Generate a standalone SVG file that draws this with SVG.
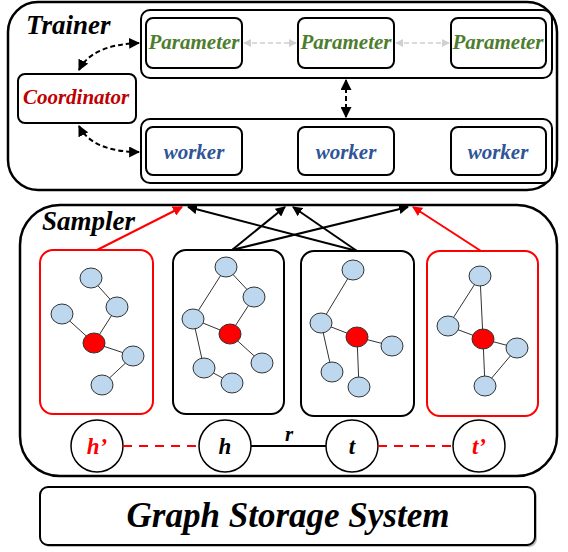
<svg xmlns="http://www.w3.org/2000/svg" width="568" height="552" viewBox="0 0 568 552">
<defs>
<style>
.t{font-family:"Liberation Serif","Times New Roman",serif;font-weight:bold;font-style:italic}
.box{fill:#fff;stroke:#000;stroke-width:2}
.rbox{fill:#fff;stroke:#f00;stroke-width:2}
.e{stroke:#333;stroke-width:1}
.n{fill:#BDD7EE;stroke:#333;stroke-width:1}
.rn{fill:#f00;stroke:#333;stroke-width:1}
.dash{fill:none;stroke:#000;stroke-width:2;stroke-dasharray:5 3}
.gdash{fill:none;stroke:#d0d0d0;stroke-width:1.5;stroke-dasharray:5 3}
</style>
<marker id="ah" viewBox="0 0 10 10" refX="9" refY="5" markerWidth="5.5" markerHeight="5.5" orient="auto-start-reverse" markerUnits="strokeWidth"><path d="M0,0 L10,5 L0,10 z" fill="#000"/></marker>
<marker id="gah" viewBox="0 0 10 10" refX="9" refY="5" markerWidth="5.5" markerHeight="5.5" orient="auto-start-reverse" markerUnits="strokeWidth"><path d="M0,0 L10,5 L0,10 z" fill="#d0d0d0"/></marker>
<marker id="bah" viewBox="0 0 10 10" refX="9" refY="5" markerWidth="5" markerHeight="5" orient="auto" markerUnits="strokeWidth"><path d="M0,0 L10,5 L0,10 z" fill="#000"/></marker>
<marker id="rah" viewBox="0 0 10 10" refX="9" refY="5" markerWidth="5" markerHeight="5" orient="auto" markerUnits="strokeWidth"><path d="M0,0 L10,5 L0,10 z" fill="#f00"/></marker>
</defs>
<rect width="568" height="552" fill="#fff"/>

<g id="trainer">
<rect x="8" y="2" width="549" height="188" rx="30" fill="#fff" stroke="#000" stroke-width="2.5"/>
<text class="t" x="26" y="34" font-size="27">Trainer</text>
</g>
<g id="param-group"><rect class="box" x="141" y="10" width="411" height="68" rx="9"/></g>
<g id="worker-group"><rect class="box" x="141" y="119" width="411" height="64" rx="9"/></g>
<g id="param1"><rect class="box" x="146" y="18" width="96" height="50" rx="7"/><text class="t" x="194" y="49" font-size="21" fill="#4E7D2E" text-anchor="middle">Parameter</text></g>
<g id="param2"><rect class="box" x="298" y="18" width="96" height="50" rx="7"/><text class="t" x="346" y="49" font-size="21" fill="#4E7D2E" text-anchor="middle">Parameter</text></g>
<g id="param3"><rect class="box" x="451" y="18" width="95" height="50" rx="7"/><text class="t" x="498" y="49" font-size="21" fill="#4E7D2E" text-anchor="middle">Parameter</text></g>
<g id="worker1"><rect class="box" x="146" y="127" width="96" height="48" rx="7"/><text class="t" x="194" y="159" font-size="21" fill="#2F5597" text-anchor="middle">worker</text></g>
<g id="worker2"><rect class="box" x="298" y="127" width="96" height="48" rx="7"/><text class="t" x="346" y="159" font-size="21" fill="#2F5597" text-anchor="middle">worker</text></g>
<g id="worker3"><rect class="box" x="451" y="127" width="95" height="48" rx="7"/><text class="t" x="498" y="159" font-size="21" fill="#2F5597" text-anchor="middle">worker</text></g>
<g id="coordinator"><rect class="box" x="18" y="74" width="118" height="49" rx="7"/><text class="t" x="76" y="104" font-size="21" fill="#C00000" text-anchor="middle">Coordinator</text></g>

<g id="sampler">
<rect x="20" y="205" width="537" height="271" rx="40" fill="#fff" stroke="#000" stroke-width="2.5"/>
<text class="t" x="42" y="230" font-size="27">Sampler</text>
</g>

<g id="sub1">
<rect class="rbox" x="40" y="250" width="113" height="164" rx="13"/>
<line class="e" x1="91" y1="278" x2="117" y2="307"/><line class="e" x1="117" y1="307" x2="94" y2="343"/><line class="e" x1="62" y1="314" x2="94" y2="343"/><line class="e" x1="94" y1="343" x2="133" y2="356"/><line class="e" x1="133" y1="356" x2="102" y2="385"/>
<ellipse class="n" cx="91" cy="278" rx="11" ry="10"/><ellipse class="n" cx="117" cy="307" rx="11" ry="10"/><ellipse class="n" cx="62" cy="314" rx="11" ry="10"/><ellipse class="rn" cx="94" cy="343" rx="11" ry="10"/><ellipse class="n" cx="133" cy="356" rx="11" ry="10"/><ellipse class="n" cx="102" cy="385" rx="11" ry="10"/>
</g>
<g id="sub2">
<rect class="box" x="173" y="250" width="111" height="164" rx="13"/>
<line class="e" x1="226" y1="267" x2="254" y2="297"/><line class="e" x1="226" y1="267" x2="193" y2="319"/><line class="e" x1="254" y1="297" x2="230" y2="334"/><line class="e" x1="193" y1="319" x2="230" y2="334"/><line class="e" x1="193" y1="319" x2="204" y2="368"/><line class="e" x1="204" y1="368" x2="232" y2="383"/><line class="e" x1="230" y1="334" x2="262" y2="363"/>
<ellipse class="n" cx="226" cy="267" rx="11" ry="10"/><ellipse class="n" cx="254" cy="297" rx="11" ry="10"/><ellipse class="n" cx="193" cy="319" rx="11" ry="10"/><ellipse class="rn" cx="230" cy="334" rx="11" ry="10"/><ellipse class="n" cx="262" cy="363" rx="11" ry="10"/><ellipse class="n" cx="204" cy="368" rx="11" ry="10"/><ellipse class="n" cx="232" cy="383" rx="11" ry="10"/>
</g>
<g id="sub3">
<rect class="box" x="301" y="251" width="113" height="165" rx="13"/>
<line class="e" x1="353" y1="270" x2="321" y2="323"/><line class="e" x1="321" y1="323" x2="357" y2="337"/><line class="e" x1="357" y1="337" x2="392" y2="346"/><line class="e" x1="321" y1="323" x2="332" y2="372"/><line class="e" x1="357" y1="337" x2="359" y2="387"/>
<ellipse class="n" cx="353" cy="270" rx="11" ry="10"/><ellipse class="n" cx="321" cy="323" rx="11" ry="10"/><ellipse class="rn" cx="357" cy="337" rx="11" ry="10"/><ellipse class="n" cx="392" cy="346" rx="11" ry="10"/><ellipse class="n" cx="332" cy="372" rx="11" ry="10"/><ellipse class="n" cx="359" cy="387" rx="11" ry="10"/>
</g>
<g id="sub4">
<rect class="rbox" x="427" y="251" width="111" height="165" rx="13"/>
<line class="e" x1="480" y1="276" x2="448" y2="326"/><line class="e" x1="480" y1="276" x2="483" y2="339"/><line class="e" x1="448" y1="326" x2="483" y2="339"/><line class="e" x1="483" y1="339" x2="517" y2="348"/><line class="e" x1="517" y1="348" x2="485" y2="386"/><line class="e" x1="483" y1="339" x2="485" y2="386"/>
<ellipse class="n" cx="480" cy="276" rx="11" ry="10"/><ellipse class="n" cx="448" cy="326" rx="11" ry="10"/><ellipse class="rn" cx="483" cy="339" rx="11" ry="10"/><ellipse class="n" cx="517" cy="348" rx="11" ry="10"/><ellipse class="n" cx="485" cy="386" rx="11" ry="10"/>
</g>

<g id="h-prime"><circle cx="97" cy="446" r="26" fill="#fff" stroke="#000" stroke-width="1.5"/><text class="t" x="97" y="454" font-size="23" fill="#f00" text-anchor="middle">h’</text></g>
<g id="h"><circle cx="225" cy="446" r="26" fill="#fff" stroke="#000" stroke-width="1.5"/><text class="t" x="225" y="454" font-size="23" fill="#000" text-anchor="middle">h</text></g>
<g id="t"><circle cx="352" cy="446" r="26" fill="#fff" stroke="#000" stroke-width="1.5"/><text class="t" x="352" y="454" font-size="23" fill="#000" text-anchor="middle">t</text></g>
<g id="t-prime"><circle cx="479" cy="446" r="26" fill="#fff" stroke="#000" stroke-width="1.5"/><text class="t" x="479" y="454" font-size="23" fill="#f00" text-anchor="middle">t’</text></g>

<g id="storage">
<rect x="42" y="489" width="495" height="58" rx="8" fill="#bbb"/>
<rect x="40" y="487" width="495" height="58" rx="8" fill="#fff" stroke="#000" stroke-width="2"/>
<text class="t" x="288" y="527" font-size="35" text-anchor="middle">Graph Storage System</text>
</g>

<g id="connectors">
<path class="dash" d="M79,70 C88,52 110,44 139,43" marker-start="url(#ah)" marker-end="url(#ah)"/>
<path class="dash" d="M79,126 C88,144 110,152 139,152" marker-start="url(#ah)" marker-end="url(#ah)"/>
<line class="dash" x1="346" y1="80" x2="346" y2="117" marker-start="url(#ah)" marker-end="url(#ah)"/>
<line class="gdash" x1="244" y1="43" x2="296" y2="43" marker-start="url(#gah)" marker-end="url(#gah)"/>
<line class="gdash" x1="396" y1="43" x2="449" y2="43" marker-start="url(#gah)" marker-end="url(#gah)"/>
<line x1="97" y1="250" x2="182" y2="207" stroke="#f00" stroke-width="2" marker-end="url(#rah)"/>
<line x1="481" y1="251" x2="413" y2="207" stroke="#f00" stroke-width="2" marker-end="url(#rah)"/>
<line x1="232" y1="250" x2="285" y2="207" stroke="#000" stroke-width="2" marker-end="url(#bah)"/>
<line x1="232" y1="250" x2="408" y2="207" stroke="#000" stroke-width="2" marker-end="url(#bah)"/>
<line x1="357" y1="251" x2="188" y2="207" stroke="#000" stroke-width="2" marker-end="url(#bah)"/>
<line x1="357" y1="251" x2="293" y2="207" stroke="#000" stroke-width="2" marker-end="url(#bah)"/>
<line x1="123" y1="446" x2="199" y2="446" stroke="#f00" stroke-width="2" stroke-dasharray="9 7"/>
<line x1="251" y1="446" x2="326" y2="446" stroke="#000" stroke-width="2"/>
<text class="t" x="289" y="441" font-size="21" text-anchor="middle">r</text>
<line x1="378" y1="446" x2="453" y2="446" stroke="#f00" stroke-width="2" stroke-dasharray="9 7"/>
</g>
</svg>
